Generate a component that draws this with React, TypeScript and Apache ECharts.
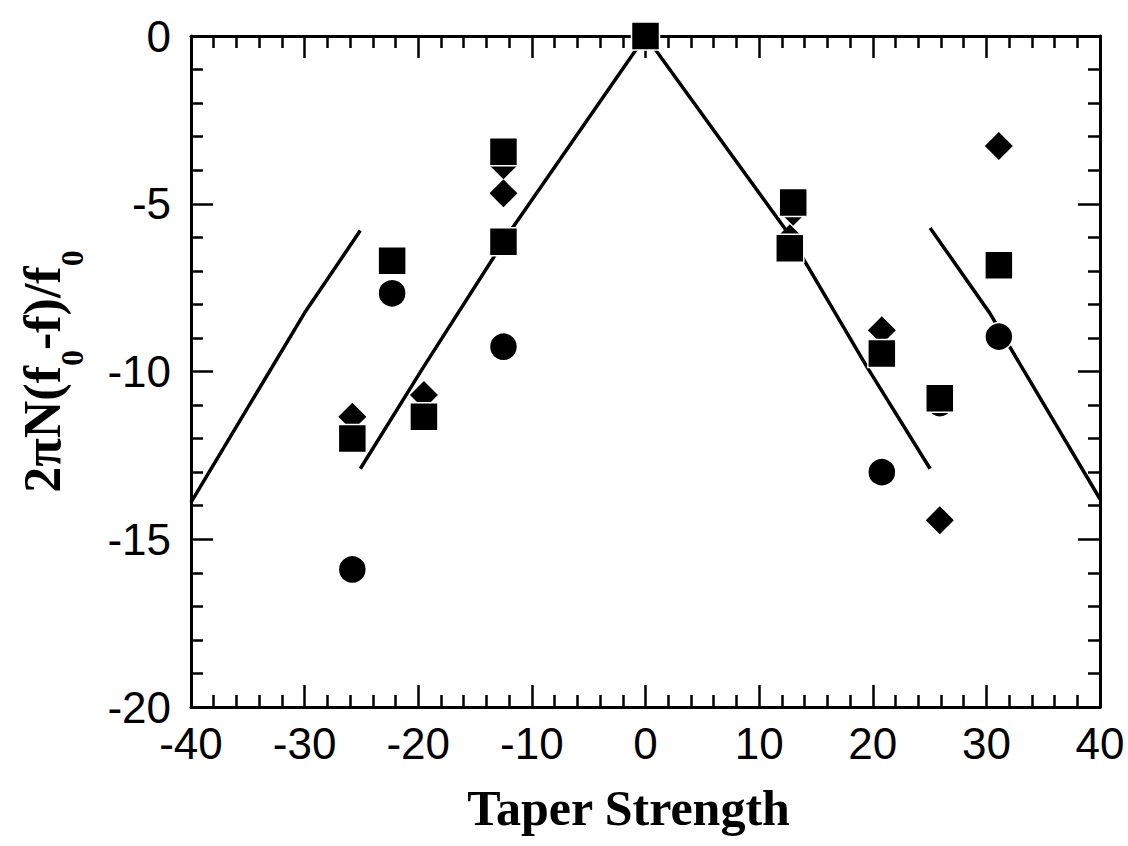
import React, { useEffect, useRef } from "react";
import * as echarts from "echarts";

// Data
const squares: number[][] = [
  [-25.8, -12.0], [-22.3, -6.7], [-19.5, -11.35], [-12.5, -3.45], [-12.5, -6.13],
  [0, 0], [13.0, -4.96], [12.7, -6.33], [20.8, -9.46], [25.9, -10.8], [31.1, -6.83],
];
const circles: number[][] = [
  [-25.8, -15.9], [-22.3, -7.67], [-12.5, -9.26], [20.8, -13.0], [25.9, -10.94], [31.1, -8.96],
];
const diamonds: number[][] = [
  [-25.8, -11.35], [-19.5, -10.7], [-12.5, -3.85], [-12.5, -4.69], [13.0, -5.24],
  [12.7, -6.03], [20.8, -8.77], [25.9, -14.43], [31.1, -3.28],
];
const leftFit: number[][] = [[-40, -13.9], [-30, -8.25], [-25.1, -5.8]];
const centerFit: number[][] = [
  [-25.1, -12.9], [-19.6, -9.9], [-11.65, -5.69], [0, 0], [12.55, -5.87], [19.5, -9.87], [25.05, -12.9],
];
const rightFit: number[][] = [[25.05, -5.72], [30.3, -8.26], [40, -13.8]];

const xTitle = "Taper Strength";

const tickStyle = { color: "#000", width: 2.5 };

function makeX(position: "bottom" | "top", showLabel: boolean) {
  return {
    type: "value",
    position,
    min: -40,
    max: 40,
    interval: 10,
    axisLine: { show: true, onZero: false, lineStyle: { color: "#000", width: 3 } },
    axisTick: { show: true, inside: true, length: 22, lineStyle: tickStyle },
    minorTick: { show: true, splitNumber: 5, length: 12, lineStyle: tickStyle },
    splitLine: { show: false },
    minorSplitLine: { show: false },
    axisLabel: {
      show: showLabel,
      color: "#000",
      fontSize: 44,
      fontFamily: "Liberation Sans",
      margin: 14,
    },
  } as any;
}

function makeY(position: "left" | "right", showLabel: boolean) {
  return {
    type: "value",
    position,
    min: -20,
    max: 0,
    interval: 5,
    axisLine: { show: true, onZero: false, lineStyle: { color: "#000", width: 3 } },
    axisTick: { show: true, inside: true, length: 22, lineStyle: tickStyle },
    minorTick: { show: true, splitNumber: 5, length: 12, lineStyle: tickStyle },
    splitLine: { show: false },
    minorSplitLine: { show: false },
    axisLabel: {
      show: showLabel,
      color: "#000",
      fontSize: 44,
      fontFamily: "Liberation Sans",
      margin: 20,
    },
  } as any;
}

export default function App() {
  const ref = useRef<HTMLDivElement>(null);

  useEffect(() => {
    if (!ref.current) return;
    const chart = echarts.init(ref.current, undefined, { renderer: "svg" });

    const xBottom = makeX("bottom", true);
    xBottom.name = xTitle;
    xBottom.nameLocation = "middle";
    xBottom.nameGap = 76;
    xBottom.nameTextStyle = {
      color: "#000",
      fontSize: 50,
      fontWeight: "bold",
      fontFamily: "Liberation Serif",
      padding: [0, 34, 0, 0],
    };

    const yLeft = makeY("left", true);
    yLeft.name = "{a|2πN(f}{s|0}{a|-f)/f}{s|0}";
    yLeft.nameLocation = "middle";
    yLeft.nameRotate = 90;
    yLeft.nameGap = 103;
    yLeft.nameTextStyle = {
      color: "#000",
      rich: {
        a: {
          fontSize: 52,
          fontWeight: "bold",
          fontFamily: "Liberation Serif",
          color: "#000",
          verticalAlign: "top",
          lineHeight: 52,
        },
        s: {
          fontSize: 32,
          fontWeight: "bold",
          fontFamily: "Liberation Serif",
          color: "#000",
          verticalAlign: "bottom",
          padding: [40, 0, 0, 0],
        },
      },
    };

    const markerBorder = { borderColor: "#fff", borderWidth: 1.5 };

    chart.setOption({
      animation: false,
      backgroundColor: "#fff",
      grid: { left: 191, right: 28, top: 36, bottom: 139, containLabel: false },
      xAxis: [xBottom, makeX("top", false)],
      yAxis: [yLeft, makeY("right", false)],
      series: [
        {
          name: "fit-left",
          type: "line",
          data: leftFit,
          symbol: "none",
          lineStyle: { color: "#000", width: 3.5 },
          z: 1,
        },
        {
          name: "fit-center",
          type: "line",
          data: centerFit,
          symbol: "none",
          lineStyle: { color: "#000", width: 3.5 },
          z: 1,
        },
        {
          name: "fit-right",
          type: "line",
          data: rightFit,
          symbol: "none",
          lineStyle: { color: "#000", width: 3.5 },
          z: 1,
        },
        {
          name: "diamonds",
          type: "scatter",
          data: diamonds,
          symbol: "diamond",
          symbolSize: 28,
          itemStyle: { color: "#000", opacity: 1 },
          z: 2,
        },
        {
          name: "circles",
          type: "scatter",
          data: circles,
          symbol: "circle",
          symbolSize: 28,
          itemStyle: { color: "#000", opacity: 1, ...markerBorder },
          z: 3,
        },
        {
          name: "squares",
          type: "scatter",
          data: squares,
          symbol: "rect",
          symbolSize: 28,
          itemStyle: { color: "#000", opacity: 1, ...markerBorder },
          z: 4,
        },
      ],
    });

    return () => chart.dispose();
  }, []);

  return (
    <div
      ref={ref}
      style={{ position: "fixed", left: 0, top: 0, width: 1128, height: 846, background: "#fff" }}
    />
  );
}
